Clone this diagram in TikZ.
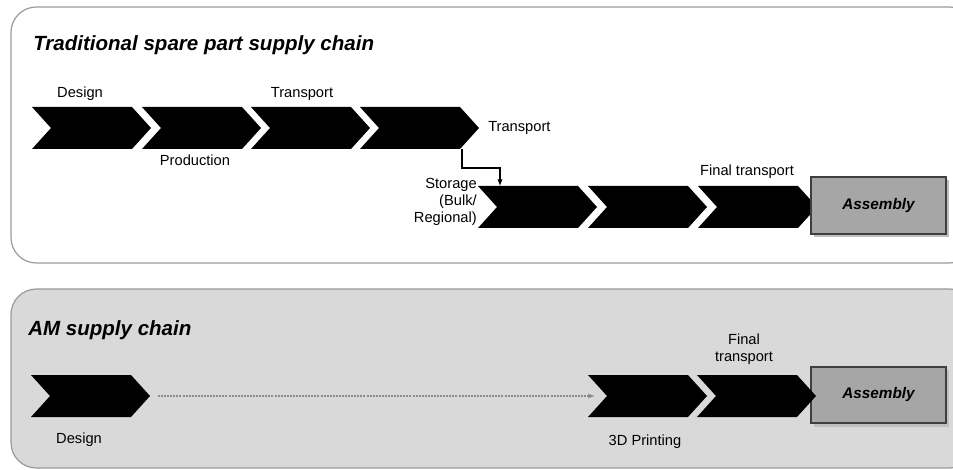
\documentclass[tikz,border=0pt]{standalone}
\usepackage{fontspec}
\setmainfont{Liberation Sans}
\usetikzlibrary{arrows.meta}
\definecolor{panelline}{HTML}{9A9A9A}
\definecolor{panelfill}{HTML}{D9D9D9}
\definecolor{asmfill}{HTML}{A6A6A6}
\definecolor{asmline}{HTML}{3F3F3F}
\definecolor{dashgray}{HTML}{8C8C8C}
\newcommand\chevronshape[3]{%
  \fill[black] (#1,#2) -- (#1+100,#2) -- (#1+119,{(#2+#3)/2}) -- (#1+100,#3) -- (#1,#3) -- (#1+19,{(#2+#3)/2}) -- cycle;}
\begin{document}
\begin{tikzpicture}[x=0.75pt,y=-0.75pt,
  lbl/.style={font=\fontsize{11}{13}\selectfont, inner sep=0pt},
  ttl/.style={font=\fontsize{15.4}{18}\selectfont\bfseries\itshape, anchor=west, inner sep=0pt},
  asm/.style={draw=asmline, fill=asmfill, line width=1.5pt, minimum width=101pt, minimum height=42.5pt, inner sep=0pt, font=\fontsize{11.5}{14}\selectfont\bfseries\itshape},
  conn/.style={line width=0.8pt, -{Latex[length=5pt,width=4pt]}},
  dashconn/.style={dashgray, line width=1.1pt, dash pattern=on 1.5pt off 0.8pt, -{Latex[length=5pt,width=4pt]}}
]
\useasboundingbox (0,0) rectangle (953,470);
\clip (0,0) rectangle (953,470);
% panels
\draw[panelline, line width=0.9pt, fill=white, rounded corners=19pt] (11,7) rectangle (975,263);
\draw[panelline, line width=0.9pt, fill=panelfill, rounded corners=19pt] (11,289) rectangle (975,468);
% titles
\node[ttl] (t1) at (33,45) {Traditional spare part supply chain};
\node[ttl] (t2) at (28,330) {AM supply chain};
% top row chevrons
\chevronshape{32}{107}{149}
\chevronshape{142}{107}{149}
\chevronshape{251}{107}{149}
\chevronshape{360}{107}{149}
% second row
\chevronshape{478}{186}{228}
\chevronshape{588}{186}{228}
\chevronshape{698}{186}{228}
% assembly boxes
\fill[black!25] (813.5,180) rectangle (948.5,237);
\node[asm] (asm1) at (878.5,205.5) {Assembly};
\fill[black!25] (813.5,369.5) rectangle (948.5,426.5);
\node[asm] (asm2) at (878.5,395) {Assembly};
% top labels
\node[lbl] (l1) at (80,94) {Design};
\node[lbl] (l2) at (302,94) {Transport};
\node[lbl] (l3) at (195,160) {Production};
\node[lbl, anchor=west] (l4) at (488,128) {Transport};
\node[lbl, anchor=east, align=right] (l5) at (477,202) {Storage\\(Bulk/\\Regional)};
\node[lbl] (l6) at (747,172) {Final transport};
% connector
\coordinate (c4b) at (462,149);
\coordinate (c5t) at (500,186);
\draw[conn] (c4b) -- ++(0,19) -| (c5t);
% bottom row
\chevronshape{31}{375}{417}
\chevronshape{588}{375}{417}
\chevronshape{697}{375}{417}
\coordinate (dA) at (158,396);
\coordinate (dB) at (595,396);
\draw[dashconn] (dA) -- (dB);
\node[lbl] (b1) at (79,440) {Design};
\node[lbl] (b2) at (645,442) {3D Printing};
\node[lbl, align=center] (b3) at (744,349) {Final\\transport};
\end{tikzpicture}
\end{document}
